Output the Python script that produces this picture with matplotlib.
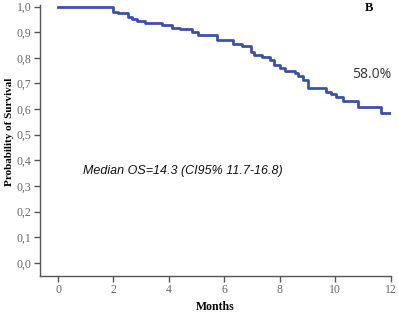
import numpy as np
import matplotlib
matplotlib.use('Agg')
import matplotlib.pyplot as plt

# Kaplan-Meier curve (months, survival after the step)
months = [0.0, 1.99, 2.17, 2.53, 2.67, 2.86, 3.14, 3.76, 4.12, 4.41, 4.84, 5.04,
          5.75, 6.32, 6.65, 6.94, 7.05, 7.37, 7.66, 7.77, 8.02, 8.20, 8.56, 8.67,
          8.85, 9.00, 9.65, 9.83, 10.01, 10.26, 10.80, 11.64, 12.0]
surv = [1.0, 0.978, 0.973, 0.960, 0.950, 0.943, 0.935, 0.927, 0.918, 0.913, 0.902, 0.889,
        0.870, 0.855, 0.847, 0.822, 0.811, 0.802, 0.792, 0.772, 0.760, 0.750, 0.740, 0.727,
        0.714, 0.681, 0.668, 0.658, 0.645, 0.633, 0.607, 0.586, 0.586]

xticks = [0, 2, 4, 6, 8, 10, 12]
yticks = [0.0, 0.1, 0.2, 0.3, 0.4, 0.5, 0.6, 0.7, 0.8, 0.9, 1.0]
ytick_labels = ['0,0', '0,1', '0,2', '0,3', '0,4', '0,5', '0,6', '0,7', '0,8', '0,9', '1,0']

fig = plt.figure(figsize=(3.98, 3.13), dpi=100)
ax = fig.add_axes([0.1005, 0.118, 0.8815, 0.866])

ax.step(months, surv, where='post', color='#3c50a8', lw=2.0)

ax.set_xlim(-0.65, 12.0)
ax.set_ylim(-0.052, 1.006)
ax.spines['top'].set_visible(False)
ax.spines['right'].set_visible(False)
for s in ['left', 'bottom']:
    ax.spines[s].set_color('#555555')
    ax.spines[s].set_linewidth(1.0)

ax.set_xticks(xticks)
ax.set_xticklabels([str(t) for t in xticks], family='Liberation Serif', size=8.5, color='#666666')
ax.set_yticks(yticks)
ax.set_yticklabels(ytick_labels, family='Liberation Serif', size=8.5, color='#666666')
ax.tick_params(axis='both', color='#555555', length=4, width=1.0, pad=2)

ax.set_xlabel('Months', family='Liberation Serif', weight='bold', size=8.5, labelpad=3)
fig.text(0.024, 0.578, 'Probability of Survival', family='Liberation Serif', weight='bold',
         size=8, rotation=90, ha='center', va='center')

fig.text(0.927, 0.975, 'B', family='Liberation Serif', weight='bold', size=9, ha='center', va='center')
ax.text(11.3, 0.735, '58.0%', family='Open Sans', size=10, color='#333333', ha='center', va='center')
ax.text(0.9, 0.36, 'Median OS=14.3 (CI95% 11.7-16.8)', family='Liberation Sans', style='italic',
        size=9, color='#111111', ha='left', va='center')

fig.savefig('out.png', dpi=100)
